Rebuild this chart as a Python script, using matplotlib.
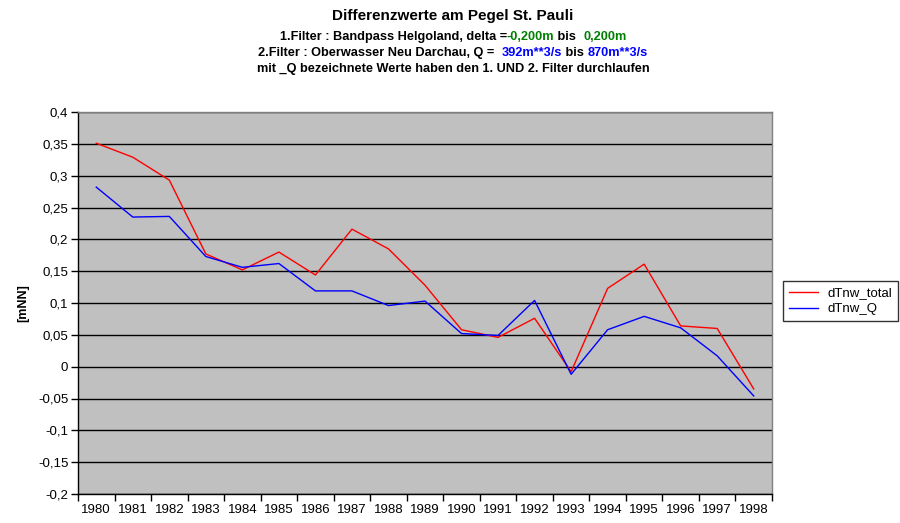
import matplotlib
matplotlib.use("Agg")
import matplotlib.pyplot as plt
import numpy as np
from matplotlib.offsetbox import TextArea, HPacker, AnnotationBbox
from matplotlib.ticker import FixedLocator, FuncFormatter

plt.rcParams['font.family'] = ['Liberation Sans', 'DejaVu Sans']

years = [str(y) for y in range(1980, 1999)]
dTnw_total = [0.351, 0.329, 0.293, 0.177, 0.152, 0.180, 0.144, 0.216, 0.185, 0.128,
              0.058, 0.046, 0.076, -0.008, 0.123, 0.161, 0.064, 0.060, -0.035]
dTnw_Q = [0.282, 0.235, 0.236, 0.173, 0.156, 0.162, 0.119, 0.119, 0.096, 0.103,
          0.052, 0.049, 0.104, -0.012, 0.058, 0.079, 0.061, 0.017, -0.046]
yticks = [-0.2, -0.15, -0.1, -0.05, 0, 0.05, 0.1, 0.15, 0.2, 0.25, 0.3, 0.35, 0.4]

fig = plt.figure(figsize=(9, 5.23), dpi=100)
ax = fig.add_axes([78/900, 29/523, 694/900, 382/523])
ax.set_facecolor('#C0C0C0')

x = np.arange(len(years))
ax.plot(x, dTnw_total, color='#FF0000', lw=1.0, label='dTnw_total', zorder=3)
ax.plot(x, dTnw_Q, color='#0000FF', lw=1.0, label='dTnw_Q', zorder=3)

ax.set_xlim(-0.5, len(years) - 0.5)
ax.set_ylim(-0.2, 0.4)
ax.set_yticks(yticks)
ax.yaxis.set_major_formatter(FuncFormatter(lambda v, p: ('%g' % round(v, 2)).replace('.', ',')))
ax.grid(axis='y', color='black', lw=1.0, zorder=1)
ax.set_axisbelow(True)

ax.xaxis.set_major_locator(FixedLocator(np.arange(-0.5, len(years), 1.0)))
ax.xaxis.set_major_formatter(FuncFormatter(lambda v, p: ''))
ax.xaxis.set_minor_locator(FixedLocator(x))
ax.set_xticklabels(years, minor=True)
ax.tick_params(axis='x', which='major', direction='out', length=5, width=1, color='black')
ax.tick_params(axis='x', which='minor', length=0, pad=7, labelsize=9.5)
ax.tick_params(axis='y', direction='out', length=5, width=1, labelsize=9.5, pad=2)

for s in ['left', 'bottom']:
    ax.spines[s].set_color('black')
    ax.spines[s].set_linewidth(1.0)
for s in ['top', 'right']:
    ax.spines[s].set_color('#808080')
    ax.spines[s].set_linewidth(1.0)

ax.set_ylabel('[mNN]', fontweight='bold', fontsize=9, labelpad=6)

leg = fig.legend(loc='upper left', bbox_to_anchor=(783/900, 1 - 281/523), frameon=True,
                 fancybox=False, edgecolor='black', fontsize=9.5, handlelength=2.2,
                 borderpad=0.45, labelspacing=0.3, handletextpad=0.7, borderaxespad=0)
leg.get_frame().set_linewidth(1.0)

fig.text(453/900, 1 - 16/523, 'Differenzwerte am Pegel St. Pauli', ha='center', va='center',
         fontsize=11, fontweight='bold')

def colored_line(parts, ycen, size=9.2):
    boxes = [TextArea(t, textprops=dict(color=c, fontsize=size, fontweight='bold')) for t, c in parts]
    pack = HPacker(children=boxes, align='baseline', pad=0, sep=0)
    ab = AnnotationBbox(pack, (453/900, 1 - ycen/523), xycoords='figure fraction',
                        frameon=False, box_alignment=(0.5, 0.5), pad=0)
    fig.add_artist(ab)

green = '#008000'
blue = '#0000FF'
colored_line([('1.Filter : Bandpass Helgoland, delta =', 'black'), ('-0,200m', green),
              (' bis  ', 'black'), ('0,200m', green)], 37)
colored_line([('2.Filter : Oberwasser Neu Darchau, Q =  ', 'black'), ('392m**3/s', blue),
              (' bis ', 'black'), ('870m**3/s', blue)], 53)
colored_line([('mit _Q bezeichnete Werte haben den 1. UND 2. Filter durchlaufen', 'black')], 69)

fig.savefig('out.png', dpi=100)
